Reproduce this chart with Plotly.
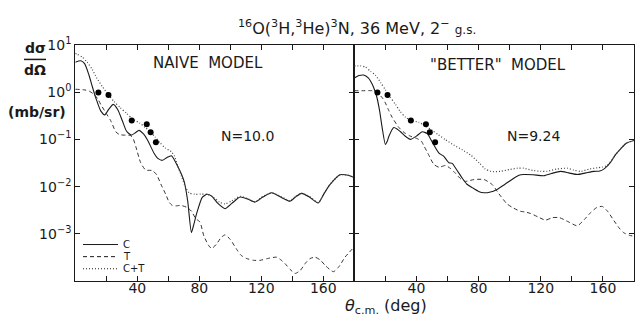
import plotly.graph_objects as go
from plotly.subplots import make_subplots

# ---------------- data ----------------
# Experimental points (same data in both panels)
exp_deg = [14.9, 21.4, 36.4, 46.1, 48.6, 52.0]
exp_val = [0.98, 0.87, 0.25, 0.21, 0.141, 0.087]

# NAIVE MODEL
naive_c_deg = [0, 3.5, 6, 8.8, 11, 13.2, 16.4, 19, 21.5, 24.5, 27.5, 30.3, 33, 36.1, 39, 41.1, 44,
               46.5, 50.8, 53.5, 56.2, 59, 62, 65.9, 70.2, 72.5, 74.9, 76.5, 78.3, 81.9, 85, 88,
               92, 96.6, 101, 106.3, 111, 115.9, 121, 126.7, 132.5, 138.5, 142, 146, 151, 156.8,
               160.5, 164.3, 170.8, 176, 180]
naive_c_val = [4.3, 4.6, 4.0, 2.3, 1.3, 0.76, 0.40, 0.33, 0.43, 0.55, 0.42, 0.25, 0.15, 0.123, 0.14,
               0.155, 0.13, 0.098, 0.051, 0.039, 0.036, 0.041, 0.045, 0.0275, 0.0129, 0.005, 0.00107,
               0.0016, 0.0027, 0.0059, 0.0069, 0.0063, 0.0044, 0.0034, 0.0044, 0.006, 0.0055, 0.0047,
               0.006, 0.0074, 0.006, 0.0049, 0.006, 0.0072, 0.006, 0.0045, 0.0071, 0.011, 0.0178,
               0.0174, 0.0155]

naive_t_deg = [0, 5.6, 9, 12.1, 14.5, 16.4, 19.6, 22.8, 26.1, 28.5, 31.4, 35.7, 37.5, 39, 42.2, 45.4,
               49.7, 52.5, 55.5, 58.3, 60.5, 62.5, 65, 67.9, 72.3, 75, 77.7, 80.4, 83, 86.3, 88, 91,
               94, 96.6, 100, 104.1, 107, 110.6, 115, 119.2, 124, 129.9, 133, 135.3, 138.5, 141.8,
               145, 148.5, 151.5, 154.7, 158, 161.5, 166.5, 170, 174, 180]
naive_t_val = [1.15, 1.12, 1.05, 0.89, 0.72, 0.55, 0.37, 0.25, 0.145, 0.126, 0.123, 0.12, 0.10, 0.071,
               0.032, 0.0224, 0.0219, 0.0178, 0.0107, 0.0069, 0.0047, 0.004, 0.0039, 0.004, 0.0036,
               0.003, 0.0021, 0.00178, 0.00089, 0.00055, 0.00049, 0.0006, 0.00083, 0.00095, 0.00076,
               0.00047, 0.00035, 0.0003, 0.000275, 0.000275, 0.0003, 0.00032, 0.000275, 0.000234,
               0.000178, 0.000145, 0.000166, 0.00024, 0.0003, 0.00032, 0.00028, 0.00021, 0.000158,
               0.0002, 0.00032, 0.00053]

naive_ct_deg = [0, 1.3, 4.5, 7.7, 11, 13.8, 17.5, 21.5, 25, 29, 33.1, 37, 41.7, 45, 48.2, 51.5, 54.6,
                58, 62.2, 64, 66, 68.5, 71.3, 73.4, 77, 80.9, 85, 89, 93, 96.6, 101, 106.3, 111,
                115.9, 121, 126.7, 132.5, 138.5, 142, 146, 151, 156.8, 160.5, 164.3, 170.8, 176, 180]
naive_ct_val = [6.6, 6.3, 5.5, 4.3, 3.0, 2.0, 1.3, 0.87, 0.63, 0.47, 0.355, 0.27, 0.22, 0.18, 0.148,
                0.112, 0.085, 0.066, 0.054, 0.044, 0.028, 0.0166, 0.0095, 0.0074, 0.0069, 0.0069,
                0.0069, 0.006, 0.0047, 0.0043, 0.005, 0.0062, 0.0056, 0.0048, 0.0062, 0.0074, 0.0062,
                0.005, 0.0062, 0.0072, 0.0062, 0.0046, 0.0072, 0.0112, 0.0178, 0.0174, 0.0155]

# "BETTER" MODEL
better_c_deg = [0, 3, 6, 9, 11.4, 13, 14.6, 16.3, 17.9, 20, 21.2, 22.2, 25.4, 27.5, 29.7, 33, 36.1,
                40, 43.7, 47, 50, 54.5, 57.5, 60.9, 63, 66, 69.5, 72.5, 75.9, 80, 83.5, 87, 91.9,
                97, 102.6, 106, 109, 115, 121.9, 127, 132.7, 138, 143.5, 149, 154.2, 158, 161, 165,
                168, 171.4, 175, 180]
better_c_val = [2.0, 2.24, 2.3, 2.0, 1.5, 1.12, 0.76, 0.40, 0.18, 0.078, 0.091, 0.115, 0.178, 0.166,
                0.145, 0.115, 0.10, 0.117, 0.145, 0.132, 0.089, 0.051, 0.044, 0.032, 0.031, 0.0224,
                0.015, 0.0112, 0.0095, 0.0079, 0.0074, 0.0076, 0.0087, 0.0112, 0.015, 0.0174, 0.018,
                0.0178, 0.017, 0.019, 0.021, 0.0195, 0.018, 0.0195, 0.021, 0.0214, 0.024, 0.033,
                0.047, 0.063, 0.083, 0.095]

better_t_deg = [0, 5, 11.4, 14, 15.7, 18, 20, 22, 24.3, 28.6, 32, 36, 40, 43, 45, 48, 51.2, 54.5,
                58.7, 62, 65.2, 68.5, 71.6, 77, 83.5, 88.8, 93, 98.3, 102.5, 106.9, 110, 113.4, 118,
                123, 127.5, 132, 138, 143.5, 148, 152, 156, 159.6, 163, 167.1, 170.5, 173.5, 177, 180]
better_t_val = [1.07, 1.07, 1.07, 1.0, 0.91, 0.76, 0.59, 0.42, 0.295, 0.18, 0.14, 0.117, 0.105, 0.093,
                0.071, 0.046, 0.0295, 0.0257, 0.028, 0.024, 0.019, 0.0145, 0.0129, 0.0141, 0.0141,
                0.011, 0.0071, 0.0043, 0.0035, 0.003, 0.0029, 0.0027, 0.0023, 0.00195, 0.0022, 0.0022,
                0.00178, 0.00148, 0.002, 0.0028, 0.0036, 0.0038, 0.003, 0.0019, 0.00132, 0.00105,
                0.00093, 0.00089]

better_ct_deg = [0, 4, 7.1, 10.5, 13.5, 17, 20, 23, 26.5, 29.5, 32.9, 37, 41.5, 46, 50.1, 54, 58.7,
                 64, 69.5, 75, 80.3, 84, 88, 94, 100, 105, 109, 115, 120, 124.1, 130, 137, 141,
                 145.6, 151, 156.4, 160, 162.8, 165, 168, 171.4, 175, 180]
better_ct_val = [3.6, 3.6, 3.4, 2.75, 2.3, 1.58, 1.12, 0.79, 0.55, 0.39, 0.295, 0.25, 0.23, 0.19,
                 0.155, 0.126, 0.098, 0.076, 0.06, 0.046, 0.032, 0.024, 0.021, 0.021, 0.023, 0.0245,
                 0.0245, 0.022, 0.021, 0.021, 0.0234, 0.0245, 0.0224, 0.021, 0.0234, 0.025, 0.026,
                 0.028, 0.034, 0.047, 0.063, 0.083, 0.095]

x_tickvals = [40, 80, 120, 160]
x_ticktext = ["40", "80", "120", "160"]
y_tickvals = [10, 1, 0.1, 0.01, 0.001]
y_ticktext = ["10<sup>1</sup>", "10<sup>0</sup>", "10<sup>−1</sup>", "10<sup>−2</sup>", "10<sup>−3</sup>"]

panel_labels = ["NAIVE  MODEL", "\"BETTER\"  MODEL"]
norm_labels = ["N=10.0", "N=9.24"]
legend_names = ["C", "T", "C+T"]

# ---------------- figure ----------------
W, H = 638, 324
FONT = "DejaVu Sans"
INK = "#1a1a1a"

fig = make_subplots(rows=1, cols=2, shared_yaxes=True, horizontal_spacing=0)

line_solid = dict(color=INK, width=1.1, shape="spline", smoothing=0.6)
line_dash = dict(color="#333", width=1.0, dash="4px,3px", shape="spline", smoothing=0.6)
line_dot = dict(color="#444", width=1.2, dash="1px,2px", shape="spline", smoothing=0.6)

panels = [
    (naive_c_deg, naive_c_val, naive_t_deg, naive_t_val, naive_ct_deg, naive_ct_val),
    (better_c_deg, better_c_val, better_t_deg, better_t_val, better_ct_deg, better_ct_val),
]
for i, (cd, cv, td, tv, ctd, ctv) in enumerate(panels, start=1):
    fig.add_trace(go.Scatter(x=cd, y=cv, mode="lines", line=line_solid, name=legend_names[0],
                             showlegend=False), row=1, col=i)
    fig.add_trace(go.Scatter(x=td, y=tv, mode="lines", line=line_dash, name=legend_names[1],
                             showlegend=False), row=1, col=i)
    fig.add_trace(go.Scatter(x=ctd, y=ctv, mode="lines", line=line_dot, name=legend_names[2],
                             showlegend=False), row=1, col=i)
    fig.add_trace(go.Scatter(x=exp_deg, y=exp_val, mode="markers",
                             marker=dict(color="black", size=6), showlegend=False), row=1, col=i)

x0, xm, x1 = 75.3, 354.3, 634.0
ytop, ybot = 36.0, 279.7
dom_y = [1 - ybot / H, 1 - ytop / H]

axis_common = dict(showline=True, linecolor=INK, linewidth=1.2, mirror="ticks", ticks="inside",
                   ticklen=5, tickcolor=INK, tickwidth=1.2, showgrid=False, zeroline=False)

fig.update_xaxes(range=[0, 180], tickvals=x_tickvals, ticktext=x_ticktext, ticklabelstandoff=-6,
                 minor=dict(tick0=0, dtick=20, ticks="inside", ticklen=5, tickcolor=INK, tickwidth=1.2),
                 tickfont=dict(family=FONT, size=14, color=INK), **axis_common)
fig.update_layout(xaxis=dict(domain=[x0 / W, xm / W]), xaxis2=dict(domain=[xm / W, x1 / W]))
fig.update_yaxes(type="log", range=[-4, 1], tickvals=y_tickvals, domain=dom_y, **axis_common)
fig.update_layout(yaxis=dict(ticktext=y_ticktext, tickfont=dict(family=FONT, size=14, color=INK)),
                  yaxis2=dict(showticklabels=False))

ann = []
def txt(x, y, s, size=14, xanchor="center", yanchor="middle"):
    ann.append(dict(x=x / W, y=1 - y / H, xref="paper", yref="paper", text=s, showarrow=False,
                    xanchor=xanchor, yanchor=yanchor, font=dict(family=FONT, size=size, color=INK)))

txt(357, 18, "<sup>16</sup>O(<sup>3</sup>H,<sup>3</sup>He)<sup>3</sup>N, 36 MeV, 2<sup>−</sup> "
    "<span style='font-size:12px'>g.s.</span>", size=16)
txt(208, 55, panel_labels[0], size=15)
txt(498, 57, panel_labels[1], size=15)
txt(247, 130, norm_labels[0], size=14)
txt(533, 130, norm_labels[1], size=14)
txt(35, 50, "<b>dσ</b>", size=14, yanchor="bottom")
txt(35, 52, "<b>dΩ</b>", size=14, yanchor="top")
txt(37, 105, "<b>(mb/sr)</b>", size=14)
txt(386, 306, "<i>θ</i><sub>c.m.</sub> (deg)", size=16)

# legend (drawn in paper coordinates)
leg_y = [242, 254.5, 267]
leg_dash = ["solid", "4px,3px", "1px,2px"]
shapes = [dict(type="line", xref="paper", yref="paper", x0=24 / W, x1=46 / W,
               y0=1 - 51 / H, y1=1 - 51 / H, line=dict(color=INK, width=1.5))]
for yy, dsh, nm in zip(leg_y, leg_dash, legend_names):
    shapes.append(dict(type="line", xref="paper", yref="paper", x0=83 / W, x1=118 / W,
                       y0=1 - yy / H, y1=1 - yy / H, line=dict(color=INK, width=1.0, dash=dsh)))
    txt(121, yy, nm, size=10, xanchor="left")

fig.update_layout(width=W, height=H, margin=dict(l=0, r=0, t=0, b=0), plot_bgcolor="white",
                  paper_bgcolor="white", annotations=ann, shapes=shapes, showlegend=False)

fig.write_html("out.html")
